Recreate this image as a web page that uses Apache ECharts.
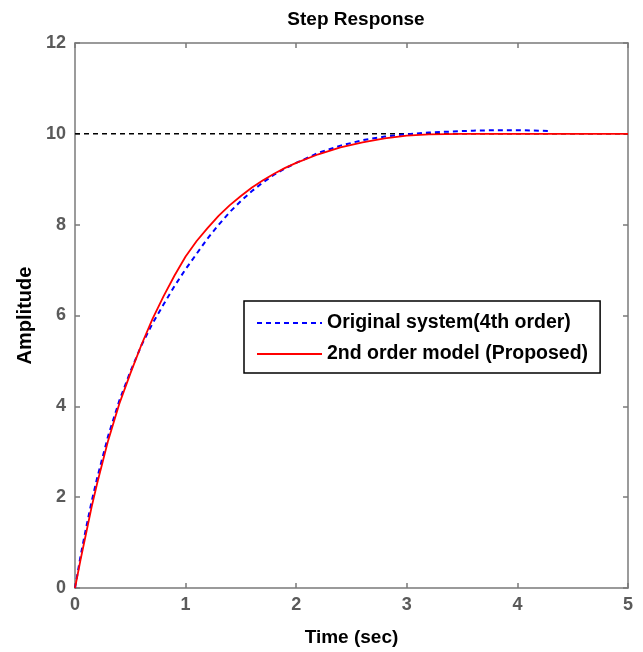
<!DOCTYPE html>
<html>
<head>
<meta charset="utf-8">
<script src="https://cdn.jsdelivr.net/npm/echarts@6/dist/echarts.min.js"></script>
<style>
  html, body { margin: 0; padding: 0; background: #fff; }
  #chart { width: 643px; height: 652px; }
</style>
</head>
<body>
<div id="chart"></div>
<script>
  // values
  const xTicks = [0, 1, 2, 3, 4, 5];
  const yTicks = [0, 2, 4, 6, 8, 10, 12];
  const finalValue = 10;

  const timeModel = [0, 0.05, 0.1, 0.15, 0.2, 0.3, 0.4, 0.5, 0.6, 0.7, 0.8, 0.9, 1.0, 1.1, 1.2, 1.3, 1.4, 1.5, 1.6, 1.7, 1.8, 1.9, 2.0, 2.2, 2.4, 2.6, 2.8, 3.0, 3.2, 3.5, 4.0, 4.5, 5.0];
  const ampModel = [0, 0.62, 1.2, 1.78, 2.3, 3.25, 4.05, 4.72, 5.35, 5.92, 6.42, 6.88, 7.3, 7.64, 7.93, 8.2, 8.43, 8.63, 8.82, 8.98, 9.12, 9.25, 9.36, 9.55, 9.7, 9.81, 9.9, 9.96, 9.99, 10.0, 10.0, 10.0, 10.0];

  const timeOrig = [0, 0.05, 0.1, 0.15, 0.2, 0.3, 0.4, 0.5, 0.6, 0.7, 0.8, 0.9, 1.0, 1.1, 1.2, 1.3, 1.4, 1.5, 1.6, 1.7, 1.8, 1.9, 2.0, 2.2, 2.4, 2.6, 2.8, 3.0, 3.2, 3.4, 3.6, 3.8, 4.0, 4.2, 4.3];
  const ampOrig = [0, 0.7, 1.32, 1.9, 2.42, 3.35, 4.12, 4.76, 5.34, 5.82, 6.24, 6.65, 7.02, 7.36, 7.7, 8.0, 8.28, 8.52, 8.74, 8.93, 9.1, 9.24, 9.36, 9.58, 9.74, 9.86, 9.94, 9.99, 10.03, 10.05, 10.07, 10.08, 10.08, 10.07, 10.06];

  const nameOrig = 'Original system(4th order)';
  const nameModel = '2nd order model (Proposed)';

  const font = "'Liberation Sans', Arial, sans-serif";
  const axisGray = '#7a7a7a';

  const zip = (xs, ys) => xs.map((x, i) => [x, ys[i]]);

  const chart = echarts.init(document.getElementById('chart'));

  const baseX = {
    type: 'value',
    min: xTicks[0],
    max: xTicks[xTicks.length - 1],
    interval: 1,
    axisLine: { show: true, onZero: false, lineStyle: { color: axisGray, width: 1.5 } },
    axisTick: { show: true, inside: true, length: 5, lineStyle: { color: axisGray, width: 1.5 } },
    splitLine: { show: false }
  };
  const baseY = {
    type: 'value',
    min: yTicks[0],
    max: yTicks[yTicks.length - 1],
    interval: 2,
    axisLine: { show: true, onZero: false, lineStyle: { color: axisGray, width: 1.5 } },
    axisTick: { show: true, inside: true, length: 5, lineStyle: { color: axisGray, width: 1.5 } },
    splitLine: { show: false }
  };
  const tickLabel = { color: '#5a5a5a', fontWeight: 'bold', fontSize: 18, fontFamily: font };

  const option = {
    animation: false,
    backgroundColor: '#fff',
    title: {
      text: 'Step Response',
      left: 351,
      top: 5,
      textAlign: 'center',
      textStyle: { color: '#000', fontWeight: 'bold', fontSize: 19, fontFamily: font }
    },
    grid: { left: 75, right: 15, top: 43, bottom: 64, containLabel: false },
    legend: {
      data: [nameOrig, nameModel],
      orient: 'vertical',
      left: 244,
      top: 301,
      padding: [12, 12, 9, 12],
      itemGap: 11,
      itemWidth: 65,
      itemHeight: 20,
      itemTextGap: 8,
      borderColor: '#000',
      borderWidth: 1.5,
      backgroundColor: '#fff',
      itemStyle: { color: 'rgba(0,0,0,0)', borderWidth: 0, opacity: 0 },
      textStyle: { color: '#000', fontWeight: 'bold', fontSize: 19.5, fontFamily: font }
    },
    xAxis: [
      Object.assign({}, baseX, {
        position: 'bottom',
        name: 'Time (sec)',
        nameLocation: 'middle',
        nameGap: 40,
        nameTextStyle: { color: '#000', fontWeight: 'bold', fontSize: 19, fontFamily: font },
        axisLabel: Object.assign({ margin: 8 }, tickLabel)
      }),
      Object.assign({}, baseX, { position: 'top', axisLabel: { show: false } })
    ],
    yAxis: [
      Object.assign({}, baseY, {
        position: 'left',
        name: 'Amplitude',
        nameLocation: 'middle',
        nameGap: 40,
        nameTextStyle: { color: '#000', fontWeight: 'bold', fontSize: 20, fontFamily: font },
        axisLabel: Object.assign({ margin: 9 }, tickLabel)
      }),
      Object.assign({}, baseY, { position: 'right', axisLabel: { show: false } })
    ],
    series: [
      {
        name: 'final value',
        type: 'line',
        data: [[xTicks[0], finalValue], [xTicks[xTicks.length - 1], finalValue]],
        symbol: 'none',
        silent: true,
        lineStyle: { color: '#000', width: 1.5, type: [5, 4] },
        z: 1
      },
      {
        name: nameOrig,
        type: 'line',
        data: zip(timeOrig, ampOrig),
        symbol: 'none',
        itemStyle: { color: '#0000ff' },
        lineStyle: { color: '#0000ff', width: 2, type: [5, 4] },
        z: 2
      },
      {
        name: nameModel,
        type: 'line',
        data: zip(timeModel, ampModel),
        symbol: 'none',
        itemStyle: { color: '#ff0000' },
        lineStyle: { color: '#ff0000', width: 1.8 },
        z: 3
      }
    ]
  };

  chart.setOption(option);
</script>
</body>
</html>
